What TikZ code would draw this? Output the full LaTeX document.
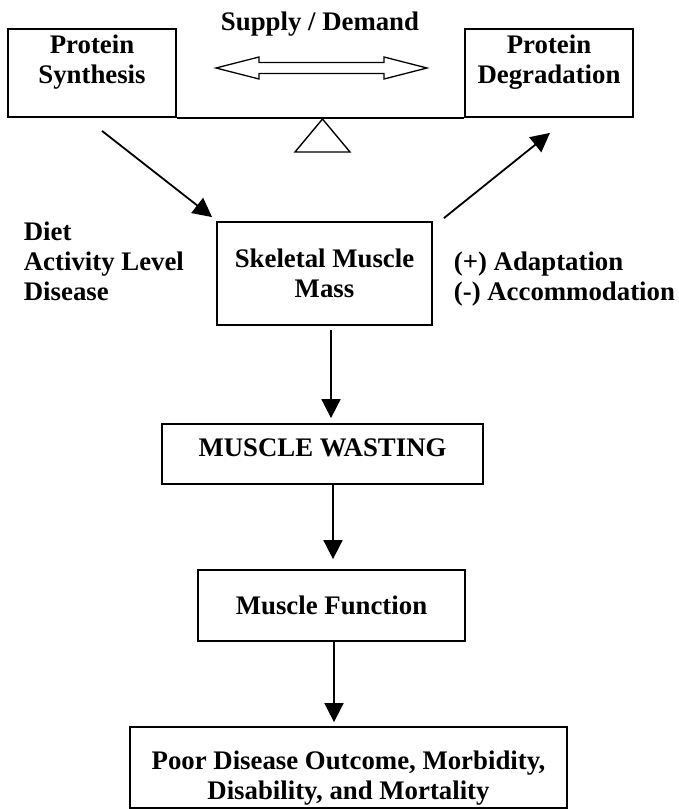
\documentclass[tikz,border=0pt]{standalone}
\usepackage{fontspec}
\setmainfont{Liberation Serif}
\usetikzlibrary{positioning,arrows.meta}
\begin{document}
\begin{tikzpicture}
    [x=1pt,y=-1pt,line width=1.8pt,
     font=\fontsize{26.8}{30}\selectfont\bfseries,
     box/.style={draw,inner sep=0pt},
     txt/.style={inner sep=0pt,align=center},
     arr/.style={-{Triangle[length=19pt,width=19pt]}}]
    \useasboundingbox (0,0) rectangle (679,809);
    \node[box,minimum width=168pt,minimum height=88pt] (synth) at (92,73) {};
    \node[txt,below=5.5pt of synth.north] (synthtxt) {Protein\\Synthesis};
    \node[box,minimum width=168pt,minimum height=88pt] (degr) at (549,73) {};
    \node[txt,below=5.5pt of degr.north] (degrtxt) {Protein\\Degradation};
    \node[txt,anchor=base] (supply) at (320,30) {Supply / Demand};
    \draw[line width=1.4pt] (synth.south east) -- (degr.south west);
    \coordinate (sdl) at (216,68);
    \draw[line width=1.3pt] (sdl) -- ++(43,-11) -- ++(0,5.5) -- ++(125,0) -- ++(0,-5.5)
      -- ++(43,11) -- ++(-43,11) -- ++(0,-5.5) -- ++(-125,0) -- ++(0,5.5) -- cycle;
    \coordinate (pivot) at (322.5,119);
    \draw[line width=1.4pt] (pivot) -- ++(27.5,33) -- ++(-55,0) -- cycle;
    \node[box,txt,minimum width=215pt,minimum height=103pt] (skel) at (324.5,273.5)
      {Skeletal Muscle\\Mass};
    \node[txt,align=left,anchor=north west] (factors) at (23,221.5)
      {Diet\\Activity Level\\Disease};
    \node[txt,align=left,anchor=north west] (adapt) at (453,251)
      {(+) Adaptation\\(-) Accommodation};
    \node[box,txt,minimum width=321pt,minimum height=60pt,text depth=12pt] (mw) at (322.5,454)
      {MUSCLE WASTING};
    \node[box,txt,minimum width=267pt,minimum height=71pt] (mf) at (331.5,605.5)
      {Muscle Function};
    \node[box,minimum width=437pt,minimum height=81pt] (poor) at (348.5,767.5) {};
    \node[txt,below=24pt of poor.north] (poortxt)
      {Poor Disease Outcome, Morbidity,\\Disability, and Mortality};
    \draw[arr] ([shift={(10,13)}]synth.south) -- ([shift={(-4,-4)}]skel.north west);
    \draw[arr] ([shift={(11,-3)}]skel.north east) -- ([shift={(1,15)}]degr.south);
    \draw[arr] ([xshift=6.5pt,yshift=-4pt]skel.south) -- ([xshift=8.5pt,yshift=5pt]mw.north);
    \draw[arr] ([xshift=10.5pt]mw.south) -- ([xshift=1.5pt,yshift=10pt]mf.north);
    \draw[arr] ([xshift=2.5pt]mf.south) -- ([xshift=-14.5pt,yshift=4pt]poor.north);
\end{tikzpicture}
\end{document}
